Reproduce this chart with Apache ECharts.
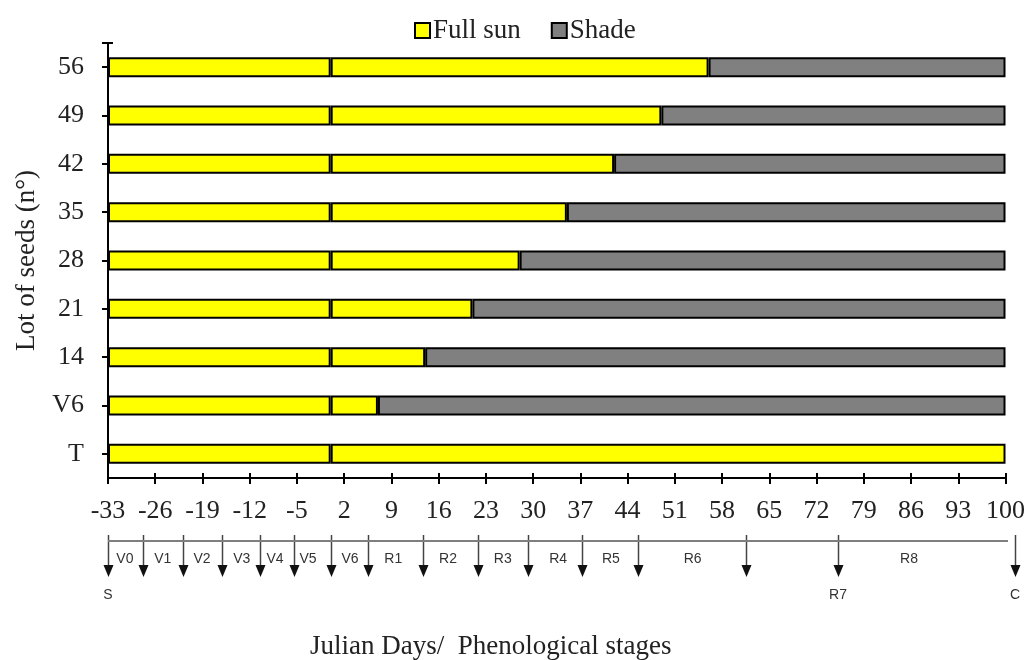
<!DOCTYPE html>
<html>
<head>
<meta charset="utf-8">
<title>Lot of seeds - full sun / shade</title>
<script src="https://cdn.jsdelivr.net/npm/echarts@6/dist/echarts.min.js"></script>
<style>
	html, body { margin: 0; padding: 0; background: #fff; }
	#chart { width: 1028px; height: 660px; }
</style>
</head>
<body>
<div id="chart"></div>
<script>
	// lots of seeds (bottom to top)
	var lots = ['T', 'V6', '14', '21', '28', '35', '42', '49', '56'];
	// days before emergence (sowing at -33)
	var preEmergence = [-33, -33, -33, -33, -33, -33, -33, -33, -33];
	// full sun after emergence (days)
	var fullSun = [100, 7, 14, 21, 28, 35, 42, 49, 56];
	// shade until day 100
	var shade = ['-', 93, 86, 79, 72, 65, 58, 51, 44];

	// phenological stage arrows (day on the axis)
	var stageArrows = [-33, -27.8, -21.9, -16.1, -10.5, -5.5, 0, 5.5, 13.6, 21.7, 29.1, 37.1, 45.4, 61.4, 75, 101.2];
	// stage names between arrows
	var stageNames = ['V0', 'V1', 'V2', 'V3', 'V4', 'V5', 'V6', 'R1', 'R2', 'R3', 'R4', 'R5', 'R6', 'R8'];
	var stageNameDays = [-30.5, -24.9, -19.1, -13.2, -8.3, -3.4, 2.8, 9.2, 17.3, 25.4, 33.6, 41.4, 53.5, 85.5];
	// marks under the arrows
	var markNames = ['S', 'R7', 'C'];
	var markDays = [-33, 75, 101.2];

	var serif = "'Liberation Serif', 'Times New Roman', serif";
	var sans = "'Liberation Sans', Arial, sans-serif";

	var chart = echarts.init(document.getElementById('chart'), null, { renderer: 'canvas' });

	var labelData = [];
	stageNames.forEach(function(n, i) {
		labelData.push({ name: n, value: [stageNameDays[i], 0.34] });
	});
	markNames.forEach(function(n, i) {
		labelData.push({ name: n, value: [markDays[i], 0.86] });
	});

	var barStyle = function(color) {
		return { color: color, borderColor: '#000', borderWidth: 2 };
	};
	var tickStyle = { color: '#000', width: 2 };

	var option = {
		animation: false,
		backgroundColor: '#fff',
		title: {
			text: 'Julian Days/  Phenological stages',
			left: 305,
			top: 628,
			textStyle: { fontFamily: serif, fontSize: 27, fontWeight: 'normal', color: '#222' }
		},
		legend: {
			data: ['Full sun', 'Shade'],
			left: 409,
			top: 12,
			icon: 'rect',
			itemWidth: 15,
			itemHeight: 15,
			itemGap: 30,
			textStyle: { fontFamily: serif, fontSize: 27, color: '#222', padding: [0, 0, 0, -2] }
		},
		grid: [
			{ left: 108, right: 21, top: 43, bottom: 182 },
			{ left: 108, right: 21, top: 535, height: 70 }
		],
		xAxis: [{
				type: 'value',
				gridIndex: 0,
				position: 'bottom',
				min: -33,
				max: 100,
				interval: 7,
				axisLine: { show: true, onZero: false, lineStyle: { color: '#000', width: 2 } },
				axisTick: { show: true, length: 6, lineStyle: tickStyle },
				axisLabel: { fontFamily: serif, fontSize: 26, color: '#222', margin: 20 },
				splitLine: { show: false }
			},
			{
				type: 'value',
				gridIndex: 0,
				position: 'bottom',
				min: -33,
				max: 100,
				interval: 7,
				axisLine: { show: false, onZero: false },
				axisTick: { show: true, inside: true, length: 5, lineStyle: tickStyle },
				axisLabel: { show: false },
				splitLine: { show: false }
			},
			{
				type: 'value',
				gridIndex: 1,
				min: -33,
				max: 100,
				show: false
			}
		],
		yAxis: [{
				type: 'category',
				gridIndex: 0,
				position: 'left',
				data: lots,
				name: 'Lot of seeds (n°)',
				nameLocation: 'middle',
				nameGap: 68,
				nameTextStyle: { fontFamily: serif, fontSize: 27, color: '#222' },
				axisLine: { show: true, onZero: false, lineStyle: { color: '#000', width: 2 } },
				axisTick: { show: true, alignWithLabel: true, length: 6, lineStyle: tickStyle },
				axisLabel: { fontFamily: serif, fontSize: 26, color: '#222', margin: 24 }
			},
			{
				type: 'category',
				gridIndex: 0,
				position: 'left',
				data: lots,
				axisLine: { show: false, onZero: false },
				axisTick: { show: true, alignWithLabel: true, inside: true, length: 5, lineStyle: tickStyle },
				axisLabel: { show: false }
			},
			{
				type: 'value',
				gridIndex: 0,
				position: 'left',
				min: 0,
				max: 1,
				interval: 1,
				axisLine: { show: false, onZero: false },
				axisTick: { show: true, customValues: [1], length: 6, lineStyle: tickStyle },
				axisLabel: { show: false },
				splitLine: { show: false }
			},
			{
				type: 'value',
				gridIndex: 0,
				position: 'left',
				min: 0,
				max: 1,
				interval: 1,
				axisLine: { show: false, onZero: false },
				axisTick: { show: true, customValues: [1], inside: true, length: 5, lineStyle: tickStyle },
				axisLabel: { show: false },
				splitLine: { show: false }
			},
			{
				type: 'value',
				gridIndex: 1,
				min: 0,
				max: 1,
				inverse: true,
				show: false
			}
		],
		series: [{
				name: 'Before emergence',
				type: 'bar',
				stack: 'lot',
				xAxisIndex: 0,
				yAxisIndex: 0,
				barWidth: 20,
				itemStyle: barStyle('#ffff00'),
				data: preEmergence
			},
			{
				name: 'Full sun',
				type: 'bar',
				stack: 'lot',
				xAxisIndex: 0,
				yAxisIndex: 0,
				barWidth: 20,
				itemStyle: barStyle('#ffff00'),
				data: fullSun
			},
			{
				name: 'Shade',
				type: 'bar',
				stack: 'lot',
				xAxisIndex: 0,
				yAxisIndex: 0,
				barWidth: 20,
				itemStyle: barStyle('#808080'),
				data: shade
			},
			{
				// time line under the axis
				name: 'timeline',
				type: 'line',
				xAxisIndex: 2,
				yAxisIndex: 4,
				clip: false,
				symbol: 'none',
				silent: true,
				lineStyle: { color: '#7f7f7f', width: 2 },
				data: [
					[stageArrows[0], 0.086],
					[stageArrows[stageArrows.length - 1], 0.086]
				]
			},
			{
				name: 'stages',
				type: 'custom',
				xAxisIndex: 2,
				yAxisIndex: 4,
				clip: false,
				silent: true,
				data: stageArrows,
				renderItem: function(params, api) {
					var p = api.coord([api.value(0), 0]);
					var x = Math.round(p[0]) + 0.5;
					var y = p[1];
					return {
						type: 'group',
						children: [{
							type: 'line',
							shape: { x1: x, y1: y, x2: x, y2: y + 32 },
							style: { stroke: '#444', lineWidth: 1.5 }
						}, {
							type: 'polygon',
							shape: { points: [[x - 5, y + 30], [x + 5, y + 30], [x, y + 42]] },
							style: { fill: '#111' }
						}]
					};
				}
			},
			{
				name: 'stage names',
				type: 'custom',
				xAxisIndex: 2,
				yAxisIndex: 4,
				clip: false,
				silent: true,
				data: labelData,
				renderItem: function(params, api) {
					var p = api.coord([api.value(0), api.value(1)]);
					return {
						type: 'text',
						style: {
							text: labelData[params.dataIndex].name,
							x: p[0],
							y: p[1],
							align: 'center',
							verticalAlign: 'middle',
							fontFamily: sans,
							fontSize: 14,
							fill: '#333'
						}
					};
				}
			}
		]
	};

	chart.setOption(option);
</script>
</body>
</html>
